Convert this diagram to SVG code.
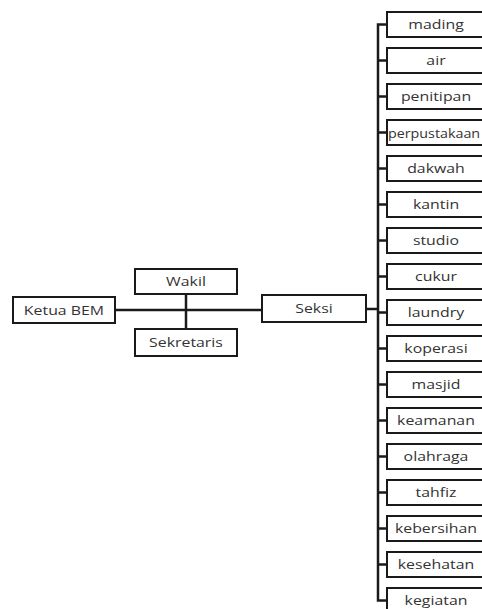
<svg xmlns="http://www.w3.org/2000/svg" width="482" height="609" viewBox="0 0 482 609">
<style>
.box{fill:#fff;stroke:#1a1a1a;stroke-width:2}
.lbl{font-family:"Open Sans","Liberation Sans",sans-serif;font-size:13px;fill:#333;text-anchor:middle;dominant-baseline:central}
.ln{stroke:#1a1a1a;stroke-width:2.5;fill:none}
</style>
<rect width="482" height="609" fill="#fff"/>
<g id="connectors">
<line class="ln" x1="115" y1="310" x2="262" y2="310"/>
<line class="ln" x1="186" y1="294" x2="186" y2="329"/>
<line class="ln" x1="366" y1="309" x2="378" y2="309"/>
<path class="ln" d="M387 24.5 H378 V600.5 H387"/>
<path class="ln" d="M378 60.5H387M378 96.5H387M378 132.5H387M378 168.5H387M378 204.5H387M378 240.5H387M378 276.5H387M378 312.5H387M378 348.5H387M378 384.5H387M378 420.5H387M378 456.5H387M378 492.5H387M378 528.5H387M378 564.5H387"/>
</g>
<g id="ketua"><rect class="box" x="13" y="297" width="102" height="26"/><text class="lbl" transform="translate(64,310) scale(1.22,1)">Ketua BEM</text></g>
<g id="wakil"><rect class="box" x="135" y="269" width="102" height="25"/><text class="lbl" transform="translate(186,281.5) scale(1.22,1)">Wakil</text></g>
<g id="sekretaris"><rect class="box" x="135" y="329" width="102" height="27"/><text class="lbl" transform="translate(186,342.5) scale(1.22,1)">Sekretaris</text></g>
<g id="seksi"><rect class="box" x="262" y="295" width="104" height="27"/><text class="lbl" transform="translate(314,308.5) scale(1.22,1)">Seksi</text></g>
<g id="mading"><rect class="box" x="387" y="12" width="100" height="25"/><text class="lbl" transform="translate(436,24.5) scale(1.22,1)">mading</text></g>
<g id="air"><rect class="box" x="387" y="48" width="100" height="25"/><text class="lbl" transform="translate(436,60.5) scale(1.22,1)">air</text></g>
<g id="penitipan"><rect class="box" x="387" y="84" width="100" height="25"/><text class="lbl" transform="translate(436,96.5) scale(1.22,1)">penitipan</text></g>
<g id="perpustakaan"><rect class="box" x="387" y="120" width="100" height="25"/><text class="lbl" style="text-anchor:start" transform="translate(388,132.5) scale(1.1,1)">perpustakaan</text></g>
<g id="dakwah"><rect class="box" x="387" y="156" width="100" height="25"/><text class="lbl" transform="translate(436,168.5) scale(1.22,1)">dakwah</text></g>
<g id="kantin"><rect class="box" x="387" y="192" width="100" height="25"/><text class="lbl" transform="translate(436,204.5) scale(1.22,1)">kantin</text></g>
<g id="studio"><rect class="box" x="387" y="228" width="100" height="25"/><text class="lbl" transform="translate(436,240.5) scale(1.22,1)">studio</text></g>
<g id="cukur"><rect class="box" x="387" y="264" width="100" height="25"/><text class="lbl" transform="translate(436,276.5) scale(1.22,1)">cukur</text></g>
<g id="laundry"><rect class="box" x="387" y="300" width="100" height="25"/><text class="lbl" transform="translate(436,312.5) scale(1.22,1)">laundry</text></g>
<g id="koperasi"><rect class="box" x="387" y="336" width="100" height="25"/><text class="lbl" transform="translate(436,348.5) scale(1.22,1)">koperasi</text></g>
<g id="masjid"><rect class="box" x="387" y="372" width="100" height="25"/><text class="lbl" transform="translate(436,384.5) scale(1.22,1)">masjid</text></g>
<g id="keamanan"><rect class="box" x="387" y="408" width="100" height="25"/><text class="lbl" transform="translate(436,420.5) scale(1.22,1)">keamanan</text></g>
<g id="olahraga"><rect class="box" x="387" y="444" width="100" height="25"/><text class="lbl" transform="translate(436,456.5) scale(1.22,1)">olahraga</text></g>
<g id="tahfiz"><rect class="box" x="387" y="480" width="100" height="25"/><text class="lbl" transform="translate(436,492.5) scale(1.22,1)">tahfiz</text></g>
<g id="kebersihan"><rect class="box" x="387" y="516" width="100" height="25"/><text class="lbl" transform="translate(436,528.5) scale(1.22,1)">kebersihan</text></g>
<g id="kesehatan"><rect class="box" x="387" y="552" width="100" height="25"/><text class="lbl" transform="translate(436,564.5) scale(1.22,1)">kesehatan</text></g>
<g id="kegiatan"><rect class="box" x="387" y="588" width="100" height="25"/><text class="lbl" transform="translate(436,600.5) scale(1.22,1)">kegiatan</text></g>
</svg>
